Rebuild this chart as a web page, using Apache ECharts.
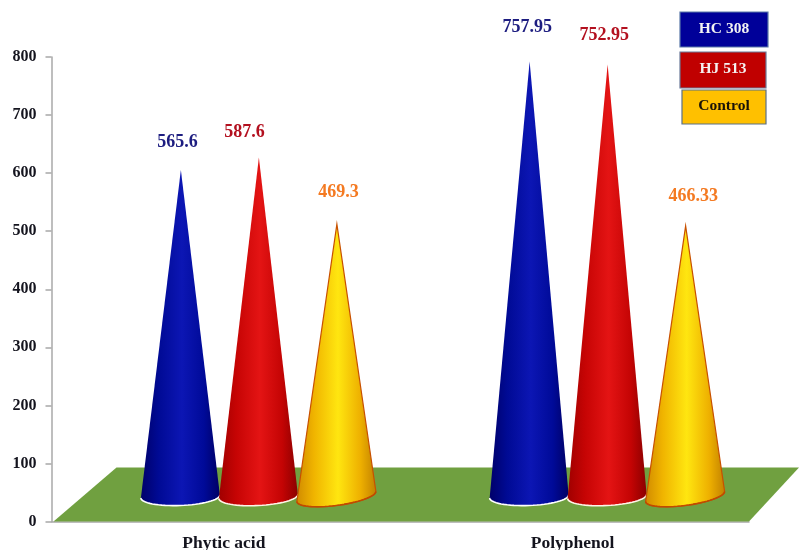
<!DOCTYPE html>
<html>
<head>
<meta charset="utf-8">
<style>html,body{margin:0;padding:0;background:#fff}#chart{width:799px;height:550px}</style>
<script src="https://cdn.jsdelivr.net/npm/echarts@6/dist/echarts.min.js"></script>
</head>
<body>
<div id="chart"></div>
<script>
// Measured contents per sample type
const categories = ['Phytic acid', 'Polyphenol'];
const hc308 = [565.6, 757.95];
const hj513 = [587.6, 752.95];
const control = [469.3, 466.33];
const yTicks = [0, 800, 100];

// Pseudo-3D layout of the floor and cones, in pixels
const FLOOR_LEFT_DX = 65, FLOOR_RIGHT_DX = 50, FLOOR_DY = -54;
const CONE_SHIFT = 32.5, CONE_GAP = 78, BASE_LIFT = 25, TIP_LIFT = 33, CONE_RX = 39.5, CONE_SCALE = 0.97;
const FONT = '"Liberation Serif", "Times New Roman", serif';

const treatments = [
  { name: 'HC 308', values: hc308, slot: -1, labelColor: '#1d1d80', arc: '#ffffff', edge: null,
    stops: ['#00006a', '#000a94', '#0c16b4', '#000a98', '#000064'],
    tilt: 1.5, labelDx: [-3, -2], labelDy: [-28, -34],
    box: { x: 680, y: 12, w: 88, h: 35, fill: '#000099', stroke: '#5a78a8', text: '#f2f2f2' } },
  { name: 'HJ 513', values: hj513, slot: 0, labelColor: '#b3101f', arc: '#fff4e8', edge: null,
    stops: ['#a00000', '#c60404', '#e41414', '#c40404', '#8a0000'],
    tilt: 2, labelDx: [-14, -3], labelDy: [-25, -29],
    box: { x: 680, y: 52, w: 86, h: 36, fill: '#c00000', stroke: '#6a7a98', text: '#f5f0f0' } },
  { name: 'Control', values: control, slot: 1, labelColor: '#f47a22', arc: '#c04a00', edge: '#c85000',
    stops: ['#d08a00', '#f0b400', '#ffe610', '#eeb000', '#c08000'],
    tilt: 5, labelDx: [2, 8], labelDy: [-32, -30],
    box: { x: 682, y: 90, w: 84, h: 34, fill: '#ffc000', stroke: '#5a7088', text: '#1a1208' } }
];

// Green floor projected behind the horizontal axis
function renderFloor(params, api) {
  const cs = params.coordSys;
  const y0 = api.coord([0, 0])[1];
  const left = cs.x, right = cs.x + cs.width;
  return {
    type: 'polygon',
    silent: true,
    shape: { points: [[left + 2, y0], [right, y0], [right + FLOOR_RIGHT_DX, y0 + FLOOR_DY], [left + FLOOR_LEFT_DX, y0 + FLOOR_DY]] },
    style: { fill: '#70a040' }
  };
}

function coneRenderer(t) {
  return function (params, api) {
    const idx = api.value(0);
    const value = api.value(1);
    const catX = api.coord([idx, 0])[0];
    const y0 = api.coord([idx, 0])[1];
    const cx = catX + CONE_SHIFT + t.slot * CONE_GAP;
    const baseY = y0 - BASE_LIFT;
    const tipY = y0 - TIP_LIFT - (y0 - api.coord([idx, value])[1]) * CONE_SCALE;

    // Front rim of the base: half an ellipse tipped slightly upward to the right
    const rim = [];
    for (let i = 0; i <= 32; i++) {
      const a = Math.PI * i / 32;
      const px = cx + CONE_RX * Math.cos(a);
      rim.push([px, baseY + 9 * Math.sin(a) - t.tilt * Math.cos(a)]);
    }
    const pts = [[cx + 0.5, tipY]].concat(rim);
    const s = t.stops;
    return {
      type: 'group',
      children: [
        {
          type: 'polygon',
          shape: { points: pts },
          style: {
            fill: new echarts.graphic.LinearGradient(0, 0, 1, 0, [
              { offset: 0, color: s[0] }, { offset: 0.22, color: s[1] }, { offset: 0.52, color: s[2] },
              { offset: 0.8, color: s[3] }, { offset: 1, color: s[4] }
            ]),
            stroke: t.edge,
            lineWidth: t.edge ? 1.2 : 0
          }
        },
        { type: 'polyline', shape: { points: rim }, style: { fill: null, stroke: t.arc, lineWidth: 1.6 } },
        {
          type: 'text',
          style: {
            x: cx + t.labelDx[idx], y: tipY + t.labelDy[idx],
            text: String(value),
            fill: t.labelColor,
            font: 'bold 18px ' + FONT,
            align: 'center', verticalAlign: 'middle'
          }
        }
      ]
    };
  };
}

const series = [{
  type: 'custom',
  name: 'floor',
  coordinateSystem: 'cartesian2d',
  clip: false,
  silent: true,
  z: 1,
  data: [[0, 0]],
  encode: { x: 0, y: 1 },
  renderItem: renderFloor
}].concat(treatments.map(function (t, n) {
  return {
    type: 'custom',
    name: t.name,
    coordinateSystem: 'cartesian2d',
    clip: false,
    z: 2 + n,
    data: t.values.map(function (v, i) { return [i, v]; }),
    encode: { x: 0, y: 1 },
    renderItem: coneRenderer(t)
  };
}));

// Boxed key in the upper right corner
const keyBoxes = [];
treatments.forEach(function (t) {
  const b = t.box;
  keyBoxes.push({
    type: 'rect', z: 20,
    shape: { x: b.x, y: b.y, width: b.w, height: b.h },
    style: { fill: b.fill, stroke: b.stroke, lineWidth: 1.2 }
  });
  keyBoxes.push({
    type: 'text', z: 21,
    style: {
      x: b.x + b.w / 2, y: b.y + b.h / 2 - 1,
      text: t.name, fill: b.text,
      font: 'bold 15.5px ' + FONT,
      align: 'center', verticalAlign: 'middle'
    }
  });
});

const chart = echarts.init(document.getElementById('chart'), null, { renderer: 'canvas' });
chart.setOption({
  animation: false,
  backgroundColor: '#ffffff',
  grid: { left: 51.5, right: 50, top: 57, bottom: 28.5, containLabel: false, outerBoundsMode: 'none' },
  xAxis: {
    type: 'category',
    data: categories,
    axisLine: { lineStyle: { color: '#a8a8a8', width: 1.5 } },
    axisTick: { length: 6, lineStyle: { color: '#a8a8a8', width: 1.5 } },
    axisLabel: { margin: 13, padding: [0, 4, 0, 0], color: '#14141e', fontFamily: FONT, fontWeight: 'bold', fontSize: 17.5 }
  },
  yAxis: {
    type: 'value',
    min: yTicks[0], max: yTicks[1], interval: yTicks[2],
    splitLine: { show: false },
    axisLine: { show: true, lineStyle: { color: '#a8a8a8', width: 1.5 } },
    axisTick: { show: true, length: 6, lineStyle: { color: '#a8a8a8', width: 1.5 } },
    axisLabel: { margin: 15, color: '#14141e', fontFamily: FONT, fontWeight: 'bold', fontSize: 16 }
  },
  series: series,
  graphic: keyBoxes
});
</script>
</body>
</html>
